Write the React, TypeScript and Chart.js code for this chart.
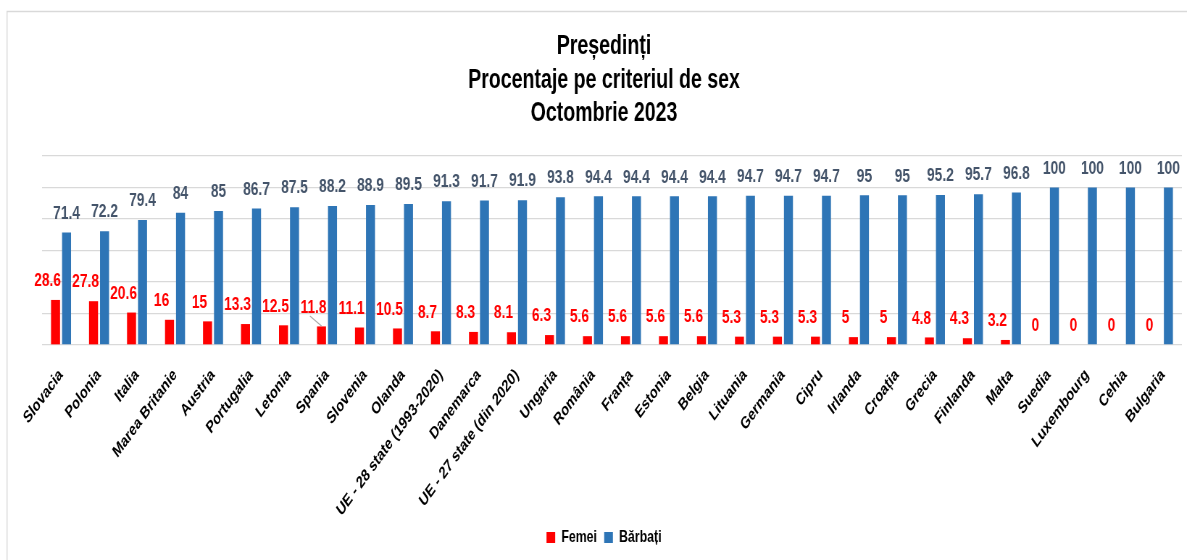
import React, { useEffect, useRef } from "react";
import { Chart, registerables } from "chart.js";

Chart.register(...registerables);

const categories = [
  "Slovacia", "Polonia", "Italia", "Marea Britanie", "Austria", "Portugalia", "Letonia", "Spania",
  "Slovenia", "Olanda", "UE - 28 state (1993-2020)", "Danemarca", "UE - 27 state (din 2020)", "Ungaria",
  "România", "Franța", "Estonia", "Belgia", "Lituania", "Germania", "Cipru", "Irlanda", "Croația",
  "Grecia", "Finlanda", "Malta", "Suedia", "Luxembourg", "Cehia", "Bulgaria",
];
const femei = [28.6, 27.8, 20.6, 16, 15, 13.3, 12.5, 11.8, 11.1, 10.5, 8.7, 8.3, 8.1, 6.3, 5.6, 5.6, 5.6, 5.6, 5.3, 5.3, 5.3, 5, 5, 4.8, 4.3, 3.2, 0, 0, 0, 0];
const barbati = [71.4, 72.2, 79.4, 84, 85, 86.7, 87.5, 88.2, 88.9, 89.5, 91.3, 91.7, 91.9, 93.8, 94.4, 94.4, 94.4, 94.4, 94.7, 94.7, 94.7, 95, 95, 95.2, 95.7, 96.8, 100, 100, 100, 100];
const seriesNames = ["Femei", "Bărbați"];
const titleLines = ["Președinți", "Procentaje pe criteriul de sex", "Octombrie 2023"];
const yMin = 0;
const yMax = 120;
const yStep = 20;
// category whose red label has a leader line in the original
const leaderLineCategory = "Spania";

const K = 1.38;
const W = Math.round(1187 * K);
const H = 560;
const FONT = '"Liberation Sans", Arial, sans-serif';

const framePlugin = {
  id: "frame",
  beforeDraw(chart: any) {
    const ctx = chart.ctx;
    ctx.save();
    ctx.fillStyle = "#ffffff";
    ctx.fillRect(0, 0, chart.width, chart.height);
    ctx.strokeStyle = "#d9d9d9";
    ctx.lineWidth = 1.4;
    ctx.beginPath();
    ctx.moveTo(9.7, chart.height);
    ctx.lineTo(9.7, 11.5);
    ctx.lineTo(chart.width, 11.5);
    ctx.stroke();
    ctx.restore();
  },
};

const valueLabels = {
  id: "valueLabels",
  afterDatasetsDraw(chart: any) {
    const ctx = chart.ctx;
    chart.data.datasets.forEach((ds: any, i: number) => {
      const meta = chart.getDatasetMeta(i);
      meta.data.forEach((el: any, j: number) => {
        const v = ds.data[j];
        ctx.save();
        if (i === 0 && chart.data.labels[j] === leaderLineCategory) {
          ctx.strokeStyle = "#a6a6a6";
          ctx.lineWidth = 1.2;
          ctx.beginPath();
          ctx.moveTo(el.x - 16, el.y - 10.5);
          ctx.lineTo(el.x, el.y - 0.5);
          ctx.stroke();
        }
        ctx.font = `bold 19px ${FONT}`;
        ctx.fillStyle = i === 0 ? "#FF0000" : "#44546A";
        ctx.textAlign = "center";
        ctx.textBaseline = "middle";
        ctx.fillText(String(v), el.x + (i === 0 ? -11 : 0), el.y - 19);
        ctx.restore();
      });
    });
  },
};

export default function App() {
  const ref = useRef<HTMLCanvasElement>(null);
  useEffect(() => {
    if (!ref.current) return;
    const chart = new Chart(ref.current, {
      type: "bar",
      data: {
        labels: categories,
        datasets: [
          {
            label: seriesNames[0],
            data: femei,
            backgroundColor: "#FF0000",
            barPercentage: 0.818,
            categoryPercentage: 0.579,
          },
          {
            label: seriesNames[1],
            data: barbati,
            backgroundColor: "#2E75B6",
            barPercentage: 0.818,
            categoryPercentage: 0.579,
          },
        ],
      },
      options: {
        animation: false,
        responsive: false,
        layout: { padding: { left: 36, right: 7, top: 0, bottom: 4 } },
        plugins: {
          title: {
            display: true,
            text: titleLines,
            color: "#000000",
            font: { family: FONT, size: 27, weight: "bold", lineHeight: 1.24 },
            padding: { top: 30, bottom: 25.5 },
          },
          legend: {
            position: "bottom",
            labels: {
              boxWidth: 12,
              boxHeight: 11,
              color: "#000000",
              font: { family: FONT, size: 17, weight: "bold" },
              padding: 10,
            },
          },
          tooltip: { enabled: false },
        },
        scales: {
          x: {
            grid: { display: false },
            border: { display: false },
            ticks: {
              autoSkip: false,
              maxRotation: 45,
              minRotation: 45,
              color: "#000000",
              font: { family: FONT, size: 17, weight: "bold" },
              padding: 12,
            },
            afterFit: (scale: any) => {
              scale.height = 174;
            },
          },
          y: {
            min: yMin,
            max: yMax,
            ticks: { stepSize: yStep, display: false },
            grid: { color: "#d9d9d9", lineWidth: 1.3, drawTicks: false },
            border: { display: false },
            afterFit: (scale: any) => {
              scale.width = 22;
            },
          },
        },
      },
      plugins: [framePlugin, valueLabels],
    });
    return () => chart.destroy();
  }, []);

  return (
    <div style={{ position: "absolute", left: 0, top: 0, width: 1187, height: 560, overflow: "hidden", background: "#fff" }}>
      <div style={{ width: W, height: H, transform: `scaleX(${1 / K})`, transformOrigin: "0 0" }}>
        <canvas ref={ref} width={W} height={H} style={{ width: W, height: H, display: "block" }} />
      </div>
    </div>
  );
}
